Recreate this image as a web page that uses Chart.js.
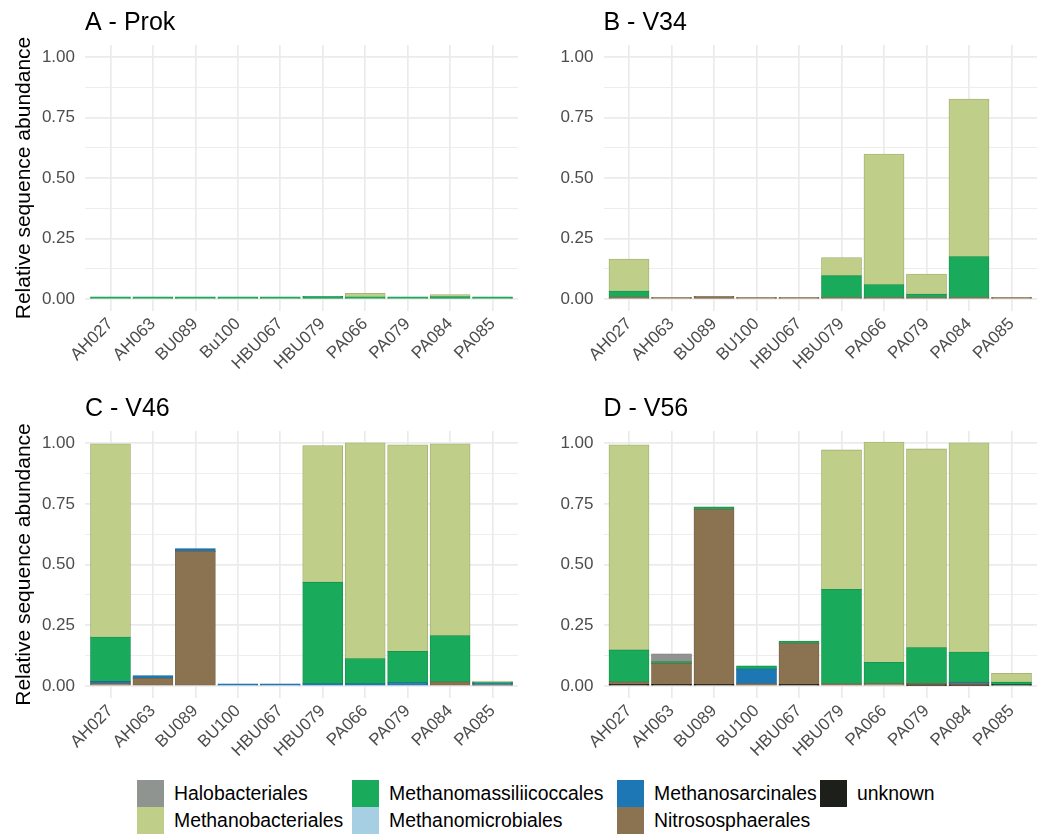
<!DOCTYPE html>
<html>
<head>
<meta charset="utf-8">
<title>Relative sequence abundance of archaeal orders</title>
<script src="https://cdn.jsdelivr.net/npm/chart.js@4/dist/chart.umd.min.js"></script>
<style>
  html, body { margin: 0; padding: 0; background: #ffffff; }
  #wrap { position: relative; width: 1043px; height: 836px; overflow: hidden;
          font-family: "Liberation Sans", Arial, Helvetica, sans-serif; }
  #wrap canvas { position: absolute; }
  #legend { position: absolute; left: 0; top: 780px; width: 1043px; height: 56px; }
  .item { position: absolute; display: flex; align-items: center; height: 27px; }
  .key { width: 27px; height: 27px; box-sizing: border-box; }
  .lab { margin-left: 10px; font-size: 19.4px; color: #000; white-space: nowrap; }
</style>
</head>
<body>
<div id="wrap">
  <canvas id="pA" width="521" height="386" style="left:0;top:0"></canvas>
  <canvas id="pB" width="522" height="386" style="left:521px;top:0"></canvas>
  <canvas id="pC" width="521" height="384" style="left:0;top:386px"></canvas>
  <canvas id="pD" width="522" height="384" style="left:521px;top:386px"></canvas>
  <div id="legend"></div>
</div>
<script>
// Sample names (the Prok panel spells one of them "Bu100")
const samplesProk = ['AH027', 'AH063', 'BU089', 'Bu100', 'HBU067', 'HBU079', 'PA066', 'PA079', 'PA084', 'PA085'];
const samples     = ['AH027', 'AH063', 'BU089', 'BU100', 'HBU067', 'HBU079', 'PA066', 'PA079', 'PA084', 'PA085'];

// Archaeal orders, legend order (first one sits on top of each stack)
const orders = ['Halobacteriales', 'Methanobacteriales', 'Methanomassiliicoccales',
                'Methanomicrobiales', 'Methanosarcinales', 'Nitrososphaerales', 'unknown'];

const yTicks = [0, 0.25, 0.5, 0.75, 1];
const yTickLabels = ['0.00', '0.25', '0.50', '0.75', '1.00'];

// A - Prok
const prokHalobacteriales         = [0, 0, 0, 0, 0, 0, 0, 0, 0, 0];
const prokMethanobacteriales      = [0, 0, 0, 0, 0, 0, 0.015, 0, 0.009, 0];
const prokMethanomassiliicoccales = [0.007, 0.007, 0.007, 0.007, 0.007, 0.010, 0.007, 0.007, 0.008, 0.007];
const prokMethanomicrobiales      = [0, 0, 0, 0, 0, 0, 0, 0, 0, 0];
const prokMethanosarcinales       = [0, 0, 0, 0, 0, 0, 0, 0, 0, 0];
const prokNitrososphaerales       = [0, 0, 0, 0, 0, 0, 0, 0, 0, 0];
const prokUnknown                 = [0, 0, 0, 0, 0, 0, 0, 0, 0, 0];

// B - V34
const v34Halobacteriales         = [0, 0, 0, 0, 0, 0, 0, 0, 0, 0];
const v34Methanobacteriales      = [0.133, 0, 0, 0, 0, 0.075, 0.540, 0.083, 0.651, 0];
const v34Methanomassiliicoccales = [0.024, 0, 0, 0, 0, 0.089, 0.052, 0.013, 0.168, 0];
const v34Methanomicrobiales      = [0, 0, 0, 0, 0, 0, 0, 0, 0, 0];
const v34Methanosarcinales       = [0, 0, 0, 0, 0, 0, 0, 0, 0, 0];
const v34Nitrososphaerales       = [0.007, 0.005, 0.010, 0.005, 0.005, 0.006, 0.006, 0.006, 0.006, 0.005];
const v34Unknown                 = [0, 0, 0, 0, 0, 0, 0, 0, 0, 0];

// C - V46
const v46Halobacteriales         = [0, 0, 0, 0, 0, 0, 0, 0, 0, 0];
const v46Methanobacteriales      = [0.796, 0, 0, 0, 0, 0.563, 0.889, 0.851, 0.790, 0.005];
const v46Methanomassiliicoccales = [0.182, 0, 0, 0, 0, 0.418, 0.103, 0.129, 0.190, 0.004];
const v46Methanomicrobiales      = [0, 0, 0, 0, 0, 0, 0, 0, 0, 0];
const v46Methanosarcinales       = [0.008, 0.011, 0.011, 0.007, 0.007, 0.008, 0.008, 0.012, 0, 0.006];
const v46Nitrososphaerales       = [0.010, 0.030, 0.553, 0, 0, 0, 0, 0, 0.016, 0.004];
const v46Unknown                 = [0, 0, 0, 0, 0, 0, 0, 0, 0, 0];

// D - V56
const v56Halobacteriales         = [0, 0.032, 0, 0, 0, 0, 0, 0, 0, 0];
const v56Methanobacteriales      = [0.845, 0, 0, 0, 0, 0.574, 0.907, 0.818, 0.862, 0.037];
const v56Methanomassiliicoccales = [0.131, 0.007, 0.009, 0.012, 0.008, 0.389, 0.086, 0.147, 0.124, 0.010];
const v56Methanomicrobiales      = [0, 0, 0, 0, 0, 0, 0, 0, 0, 0];
const v56Methanosarcinales       = [0, 0, 0, 0.061, 0, 0, 0, 0, 0.004, 0];
const v56Nitrososphaerales       = [0.011, 0.087, 0.722, 0.008, 0.170, 0.008, 0.010, 0.007, 0.007, 0];
const v56Unknown                 = [0.005, 0.005, 0.005, 0, 0.005, 0, 0, 0.003, 0.003, 0.004];

// Fill colours, one per order
const orderColors = {
  'Halobacteriales':         '#8f9490',
  'Methanobacteriales':      '#bfce88',
  'Methanomassiliicoccales': '#19ab5b',
  'Methanomicrobiales':      '#a6cfe4',
  'Methanosarcinales':       '#1d77b4',
  'Nitrososphaerales':       '#8b7351',
  'unknown':                 '#1d1f1a'
};

const FONT = '"Liberation Sans", Arial, Helvetica, sans-serif';
const GRID = '#ebebeb';

// Slightly darker shade of a fill, used for the thin segment outlines
function shade(hex, f) {
  const n = parseInt(hex.slice(1), 16);
  const r = Math.round(((n >> 16) & 255) * f);
  const g = Math.round(((n >> 8) & 255) * f);
  const b = Math.round((n & 255) * f);
  return `rgb(${r}, ${g}, ${b})`;
}

function buildPanel(canvasId, title, labels, seriesByOrder, opts) {
  // Chart.js stacks the first dataset at the bottom, so walk the orders in reverse
  const datasets = orders.slice().reverse().map(name => ({
    label: name,
    data: seriesByOrder[name].map((v, i) => ({ x: i, y: v })),
    backgroundColor: orderColors[name],
    borderColor: shade(orderColors[name], 0.84),
    borderWidth: 0.8,
    borderSkipped: false,
    inflateAmount: 0.6,
    barPercentage: 0.93,
    categoryPercentage: 1
  }));

  return new Chart(document.getElementById(canvasId), {
    type: 'bar',
    data: { datasets },
    options: {
      responsive: false,
      animation: false,
      devicePixelRatio: 1,
      layout: { padding: { left: 0, right: opts.rightPad, top: 0, bottom: 0 } },
      plugins: {
        legend: { display: false },
        tooltip: { enabled: false },
        title: {
          display: true,
          text: title,
          align: 'start',
          fullSize: false,
          color: '#000',
          font: { family: FONT, size: 25, weight: 'normal', lineHeight: 1.2 },
          padding: { top: 8, bottom: 7 }
        }
      },
      scales: {
        x: {
          type: 'linear',
          stacked: true,
          offset: false,
          min: -0.6,
          max: labels.length - 1 + 0.6,
          afterBuildTicks: s => { s.ticks = labels.map((_, i) => ({ value: i })); },
          afterFit: s => { s.height = opts.xHeight; },
          grid: { color: GRID, lineWidth: 1.7, offset: false, drawTicks: false },
          border: { display: false },
          ticks: {
            autoSkip: false,
            minRotation: 45,
            maxRotation: 45,
            padding: 3,
            color: '#4d4d4d',
            font: { family: FONT, size: 17 },
            callback: v => labels[v]
          }
        },
        y: {
          stacked: true,
          min: -0.05,
          max: 1.05,
          afterBuildTicks: s => {
            const t = [];
            yTicks.forEach((v, i) => {
              t.push({ value: v });
              if (i < yTicks.length - 1) t.push({ value: (v + yTicks[i + 1]) / 2 });
            });
            s.ticks = t;
          },
          afterFit: s => { s.width = opts.yWidth; },
          grid: {
            color: GRID,
            drawTicks: false,
            lineWidth: c => (yTicks.indexOf(c.tick.value) >= 0 ? 1.7 : 0.9)
          },
          border: { display: false },
          ticks: {
            autoSkip: false,
            padding: 10,
            color: '#4d4d4d',
            font: { family: FONT, size: 17 },
            callback: v => { const k = yTicks.indexOf(v); return k >= 0 ? yTickLabels[k] : ''; }
          },
          title: {
            display: opts.yTitle,
            text: 'Relative sequence abundance',
            color: '#000',
            font: { family: FONT, size: 21, lineHeight: 1.2 },
            padding: { top: 12, bottom: 0 }
          }
        }
      }
    }
  });
}

buildPanel('pA', 'A - Prok', samplesProk, {
  'Halobacteriales': prokHalobacteriales,
  'Methanobacteriales': prokMethanobacteriales,
  'Methanomassiliicoccales': prokMethanomassiliicoccales,
  'Methanomicrobiales': prokMethanomicrobiales,
  'Methanosarcinales': prokMethanosarcinales,
  'Nitrososphaerales': prokNitrososphaerales,
  'unknown': prokUnknown
}, { yWidth: 85, xHeight: 75, rightPad: 3, yTitle: true });

buildPanel('pB', 'B - V34', samples, {
  'Halobacteriales': v34Halobacteriales,
  'Methanobacteriales': v34Methanobacteriales,
  'Methanomassiliicoccales': v34Methanomassiliicoccales,
  'Methanomicrobiales': v34Methanomicrobiales,
  'Methanosarcinales': v34Methanosarcinales,
  'Nitrososphaerales': v34Nitrososphaerales,
  'unknown': v34Unknown
}, { yWidth: 82.5, xHeight: 75, rightPad: 6, yTitle: false });

buildPanel('pC', 'C - V46', samples, {
  'Halobacteriales': v46Halobacteriales,
  'Methanobacteriales': v46Methanobacteriales,
  'Methanomassiliicoccales': v46Methanomassiliicoccales,
  'Methanomicrobiales': v46Methanomicrobiales,
  'Methanosarcinales': v46Methanosarcinales,
  'Nitrososphaerales': v46Nitrososphaerales,
  'unknown': v46Unknown
}, { yWidth: 85, xHeight: 72, rightPad: 3, yTitle: true });

buildPanel('pD', 'D - V56', samples, {
  'Halobacteriales': v56Halobacteriales,
  'Methanobacteriales': v56Methanobacteriales,
  'Methanomassiliicoccales': v56Methanomassiliicoccales,
  'Methanomicrobiales': v56Methanomicrobiales,
  'Methanosarcinales': v56Methanosarcinales,
  'Nitrososphaerales': v56Nitrososphaerales,
  'unknown': v56Unknown
}, { yWidth: 82.5, xHeight: 72, rightPad: 6, yTitle: false });

// Shared legend: two rows, filled column by column
const legendCols = [137, 352, 617, 820];
const legendRows = [0, 27];
const legendEl = document.getElementById('legend');
orders.forEach((name, i) => {
  const col = Math.floor(i / 2), row = i % 2;
  const item = document.createElement('div');
  item.className = 'item';
  item.style.left = legendCols[col] + 'px';
  item.style.top = legendRows[row] + 'px';
  const key = document.createElement('div');
  key.className = 'key';
  key.style.background = orderColors[name];
  const lab = document.createElement('span');
  lab.className = 'lab';
  lab.textContent = name;
  item.appendChild(key);
  item.appendChild(lab);
  legendEl.appendChild(item);
});
</script>
</body>
</html>
